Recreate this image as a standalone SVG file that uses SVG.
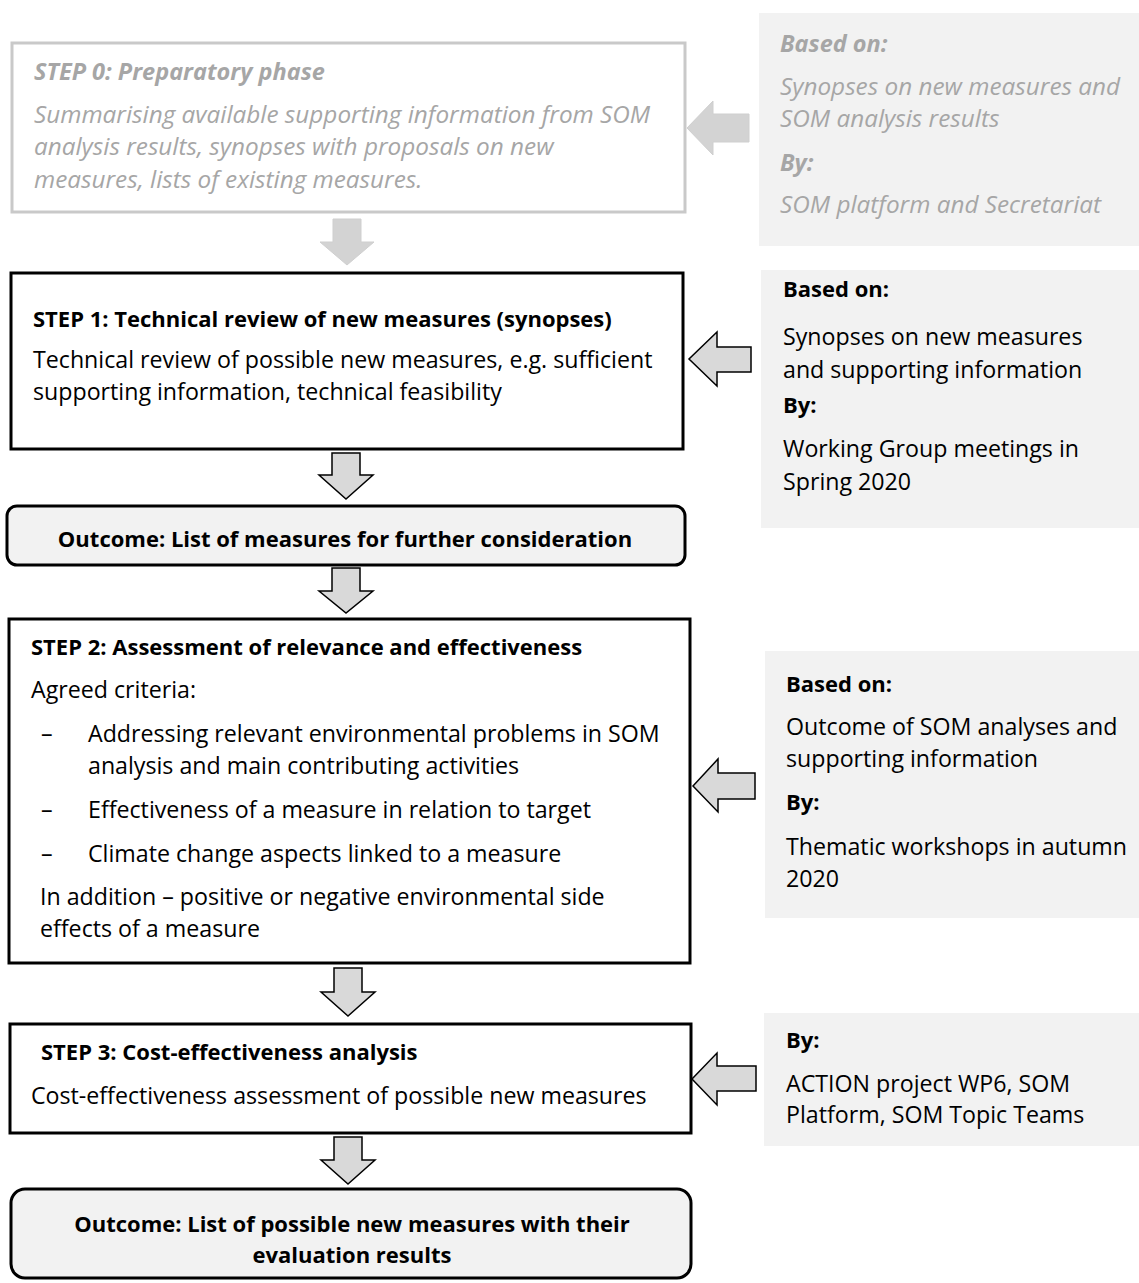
<svg xmlns="http://www.w3.org/2000/svg" width="1139" height="1283" viewBox="0 0 1139 1283">
<style>
.t{font-family:"Open Sans","Liberation Sans",sans-serif;font-size:23.2px;fill:#000}
.b{font-weight:bold;font-size:22px}
.g{fill:#a6a6a6;font-style:italic;font-size:24.3px}
.g.b{font-size:23.5px}
.box{fill:#fff;stroke:#000;stroke-width:3}
.gbox{fill:#fff;stroke:#c9c9c9;stroke-width:3}
.out{fill:#f2f2f2;stroke:#000;stroke-width:3}
.panel{fill:#f2f2f2}
.arr{fill:#d9d9d9;stroke:#000;stroke-width:1.5;stroke-linejoin:miter}
.garr{fill:#d3d3d3;stroke:#cfcfcf;stroke-width:1}
.m{text-anchor:middle}
</style>
<rect width="1139" height="1283" fill="#fff"/>

<g id="connectors">
  <path class="garr" d="M333,219 H361 V242 H374 L347,265 L320,242 H333 Z"/>
  <path class="arr" d="M332,453 H360 V475 H373 L346,499 L319,475 H332 Z"/>
  <path class="arr" d="M332,568 H360 V591 H373 L346,613 L319,591 H332 Z"/>
  <path class="arr" d="M334,968 H362 V992 H375 L348,1016 L321,992 H334 Z"/>
  <path class="arr" d="M334,1137 H362 V1160 H375 L348,1184 L321,1160 H334 Z"/>
  <path class="garr" d="M749,114 V142 H713 V155 L687,128 L713,101 V114 Z"/>
  <path class="arr" d="M751,347 V372 H717 V386 L689,359 L717,332 V347 Z"/>
  <path class="arr" d="M755,773 V799 H718 V812 L693,786 L718,759 V773 Z"/>
  <path class="arr" d="M756,1066 V1091 H717 V1105 L692,1079 L717,1053 V1066 Z"/>
</g>

<g id="step0">
  <rect class="gbox" x="12" y="43" width="673" height="169"/>
  <text class="t g b" x="34" y="80">STEP 0: Preparatory phase</text>
  <text class="t g" x="34" y="123">Summarising available supporting information from SOM</text>
  <text class="t g" x="34" y="155">analysis results, synopses with proposals on new</text>
  <text class="t g" x="34" y="188">measures, lists of existing measures.</text>
</g>

<g id="panel0">
  <rect class="panel" x="759" y="13" width="380" height="233"/>
  <text class="t g b" x="780" y="52">Based on:</text>
  <text class="t g" x="780" y="95">Synopses on new measures and</text>
  <text class="t g" x="780" y="127">SOM analysis results</text>
  <text class="t g b" x="780" y="171">By:</text>
  <text class="t g" x="780" y="213">SOM platform and Secretariat</text>
</g>

<g id="step1">
  <rect class="box" x="11" y="273" width="672" height="176"/>
  <text class="t b" x="33" y="327">STEP 1: Technical review of new measures (synopses)</text>
  <text class="t" x="33" y="368">Technical review of possible new measures, e.g. sufficient</text>
  <text class="t" x="33" y="400">supporting information, technical feasibility</text>
</g>

<g id="panel1">
  <rect class="panel" x="761" y="270" width="378" height="258"/>
  <text class="t b" x="783" y="297">Based on:</text>
  <text class="t" x="783" y="345">Synopses on new measures</text>
  <text class="t" x="783" y="378">and supporting information</text>
  <text class="t b" x="783" y="413">By:</text>
  <text class="t" x="783" y="457">Working Group meetings in</text>
  <text class="t" x="783" y="490">Spring 2020</text>
</g>

<g id="outcome1">
  <rect class="out" x="7" y="506" width="678" height="59" rx="10"/>
  <text class="t b m" x="345" y="547">Outcome: List of measures for further consideration</text>
</g>

<g id="step2">
  <rect class="box" x="9" y="619" width="681" height="344"/>
  <text class="t b" x="31" y="655">STEP 2: Assessment of relevance and effectiveness</text>
  <text class="t" x="31" y="698">Agreed criteria:</text>
  <text class="t" x="41" y="742">–</text>
  <text class="t" x="88" y="742">Addressing relevant environmental problems in SOM</text>
  <text class="t" x="88" y="774">analysis and main contributing activities</text>
  <text class="t" x="41" y="818">–</text>
  <text class="t" x="88" y="818">Effectiveness of a measure in relation to target</text>
  <text class="t" x="41" y="862">–</text>
  <text class="t" x="88" y="862">Climate change aspects linked to a measure</text>
  <text class="t" x="40" y="905">In addition – positive or negative environmental side</text>
  <text class="t" x="40" y="937">effects of a measure</text>
</g>

<g id="panel2">
  <rect class="panel" x="765" y="651" width="374" height="267"/>
  <text class="t b" x="786" y="692">Based on:</text>
  <text class="t" x="786" y="735">Outcome of SOM analyses and</text>
  <text class="t" x="786" y="767">supporting information</text>
  <text class="t b" x="786" y="810">By:</text>
  <text class="t" x="786" y="855">Thematic workshops in autumn</text>
  <text class="t" x="786" y="887">2020</text>
</g>

<g id="step3">
  <rect class="box" x="10" y="1024" width="681" height="109"/>
  <text class="t b" x="41" y="1060">STEP 3: Cost-effectiveness analysis</text>
  <text class="t" x="31" y="1104">Cost-effectiveness assessment of possible new measures</text>
</g>

<g id="panel3">
  <rect class="panel" x="764" y="1013" width="375" height="133"/>
  <text class="t b" x="786" y="1048">By:</text>
  <text class="t" x="786" y="1092">ACTION project WP6, SOM</text>
  <text class="t" x="786" y="1123">Platform, SOM Topic Teams</text>
</g>

<g id="outcome2">
  <rect class="out" x="11" y="1189" width="680" height="89" rx="14"/>
  <text class="t b m" x="352" y="1232">Outcome: List of possible new measures with their</text>
  <text class="t b m" x="352" y="1263">evaluation results</text>
</g>
</svg>
